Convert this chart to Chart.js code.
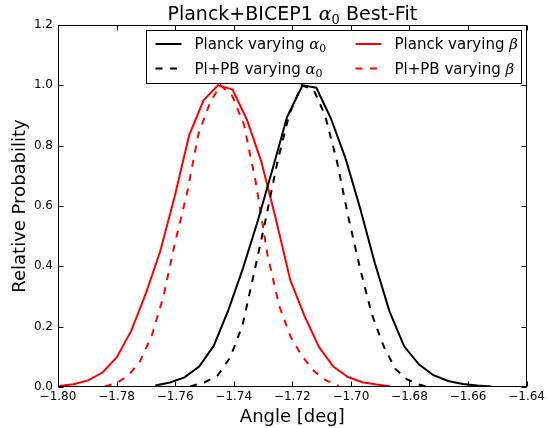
<!DOCTYPE html>
<html>
<head>
<title>Planck+BICEP1 alpha0 Best-Fit</title>
<script src="https://cdn.jsdelivr.net/npm/chart.js@4.4.1/dist/chart.umd.min.js"></script>
<style>
  body { margin: 0; background: #ffffff; }
</style>
</head>
<body>
<canvas id="fitChart" width="548" height="428"></canvas>

<script>
// tick positions
const xTicks = [-1.80, -1.78, -1.76, -1.74, -1.72, -1.70, -1.68, -1.66, -1.64];
const yTicks = [0.0, 0.2, 0.4, 0.6, 0.8, 1.0, 1.2];

// Planck varying alpha0 (black solid)
const planckAlphaX = [-1.7668, -1.7618, -1.7568, -1.7518, -1.7468, -1.7418, -1.7368, -1.7318, -1.7268, -1.7218, -1.7165, -1.7118,
                      -1.7068, -1.7018, -1.6968, -1.6918, -1.6868, -1.6818, -1.6768, -1.6718, -1.6668, -1.6618, -1.6568, -1.6521];
const planckAlphaY = [0.005, 0.015, 0.032, 0.068, 0.137, 0.256, 0.395, 0.550, 0.720, 0.895, 1.000, 0.992,
                      0.890, 0.757, 0.591, 0.410, 0.250, 0.135, 0.075, 0.039, 0.020, 0.010, 0.005, 0.002];

// Pl+PB varying alpha0 (black dashed)
const plpbAlphaX = [-1.7549, -1.7500, -1.7455, -1.7412, -1.7370, -1.7330, -1.7290, -1.7250, -1.7210, -1.7168, -1.7127,
                    -1.7088, -1.7048, -1.7008, -1.6968, -1.6928, -1.6888, -1.6848, -1.6808, -1.6768, -1.6741];
const plpbAlphaY = [0.002, 0.015, 0.038, 0.098, 0.205, 0.380, 0.560, 0.750, 0.905, 1.000, 0.985,
                    0.900, 0.750, 0.560, 0.390, 0.240, 0.135, 0.060, 0.025, 0.008, 0.002];

// Planck varying beta (red solid)
const planckBetaX = [-1.7996, -1.7947, -1.7897, -1.7848, -1.7799, -1.7750, -1.7700, -1.7651, -1.7602, -1.7552, -1.7503, -1.7454,
                     -1.7404, -1.7355, -1.7306, -1.7257, -1.7207, -1.7158, -1.7109, -1.7060, -1.7010, -1.6961, -1.6912, -1.6863];
const planckBetaY = [0.003, 0.009, 0.022, 0.048, 0.099, 0.186, 0.310, 0.450, 0.630, 0.835, 0.950, 1.000,
                     0.986, 0.886, 0.748, 0.560, 0.355, 0.235, 0.133, 0.068, 0.033, 0.016, 0.008, 0.002];

// Pl+PB varying beta (red dashed)
const plpbBetaX = [-1.7840, -1.7800, -1.7760, -1.7720, -1.7680, -1.7640, -1.7600, -1.7560, -1.7520, -1.7480, -1.7445,
                   -1.7405, -1.7365, -1.7325, -1.7285, -1.7245, -1.7205, -1.7165, -1.7125, -1.7085, -1.7041];
const plpbBetaY = [0.002, 0.013, 0.038, 0.085, 0.170, 0.300, 0.480, 0.640, 0.840, 0.945, 1.000,
                   0.965, 0.870, 0.680, 0.440, 0.270, 0.165, 0.100, 0.052, 0.022, 0.004];

const chartTitle = 'Planck+BICEP1 α₀ Best-Fit';
const dashPattern = [7, 7.5];

function points(xs, ys) {
    return xs.map((x, i) => ({ x: x, y: ys[i] }));
}

// split a label into plain text, italic greek letters and subscripts (mathtext look)
function mathParts(text) {
    const parts = [];
    for (const ch of text) {
        let kind = 'n', t = ch;
        if (ch === 'α' || ch === 'β') kind = 'i';
        if (ch === '₀') { kind = 's'; t = '0'; }
        const last = parts[parts.length - 1];
        if (last && last.kind === kind && kind === 'n') last.t += t;
        else parts.push({ t: t, kind: kind });
    }
    return parts;
}

function setPartFont(ctx, kind, size) {
    if (kind === 'n') ctx.font = size + 'px "DejaVu Sans"';
    else if (kind === 'i') ctx.font = 'italic ' + size + 'px "DejaVu Serif"';
    else ctx.font = Math.round(size * 0.7) + 'px "DejaVu Serif"';
}

function mathWidth(ctx, text, size) {
    let w = 0;
    mathParts(text).forEach(p => { setPartFont(ctx, p.kind, size); w += ctx.measureText(p.t).width; });
    return w;
}

function drawMath(ctx, text, x, y, size) {
    mathParts(text).forEach(p => {
        setPartFont(ctx, p.kind, size);
        ctx.fillText(p.t, x, p.kind === 's' ? y + size * 0.22 : y);
        x += ctx.measureText(p.t).width;
    });
}

// title, frame with inward ticks, and legend inside the axes
const decorPlugin = {
    id: 'decor',
    afterDatasetsDraw(chart) {
        const ctx = chart.ctx;
        const a = chart.chartArea;
        const xs = chart.scales.x, ys = chart.scales.y;
        ctx.save();
        ctx.strokeStyle = '#000';
        ctx.lineWidth = 1;
        ctx.setLineDash([]);

        const l = Math.round(a.left) + 0.5, r = Math.round(a.right) - 0.5;
        const t = Math.round(a.top) + 0.5, b = Math.round(a.bottom) - 0.5;
        ctx.strokeRect(l, t, r - l, b - t);

        ctx.beginPath();
        xTicks.forEach(v => {
            const px = Math.round(xs.getPixelForValue(v)) + 0.5;
            ctx.moveTo(px, b); ctx.lineTo(px, b - 5);
            ctx.moveTo(px, t); ctx.lineTo(px, t + 5);
        });
        yTicks.forEach(v => {
            const py = Math.round(ys.getPixelForValue(v)) + 0.5;
            ctx.moveTo(l, py); ctx.lineTo(l + 5, py);
            ctx.moveTo(r, py); ctx.lineTo(r - 5, py);
        });
        ctx.stroke();

        // title
        ctx.fillStyle = '#000';
        ctx.textBaseline = 'alphabetic';
        ctx.textAlign = 'left';
        const tw = mathWidth(ctx, chartTitle, 19);
        drawMath(ctx, chartTitle, (a.left + a.right) / 2 - tw / 2, 19.5, 19);

        // legend box
        const boxL = 146.5, boxT = 30.5, boxW = 375, boxH = 53;
        ctx.fillStyle = '#fff';
        ctx.fillRect(boxL, boxT, boxW, boxH);
        ctx.strokeRect(boxL, boxT, boxW, boxH);

        // column-major like matplotlib: col 1 black, col 2 red
        const order = [0, 1, 2, 3];
        order.forEach((di, n) => {
            const ds = chart.data.datasets[di];
            const col = Math.floor(n / 2), row = n % 2;
            const x0 = boxL + 9 + col * 200;
            const y0 = boxT + 13.5 + row * 24.5;
            ctx.strokeStyle = ds.borderColor;
            ctx.lineWidth = 2;
            ctx.setLineDash(ds.borderDash || []);
            ctx.beginPath();
            ctx.moveTo(x0, y0); ctx.lineTo(x0 + 26, y0);
            ctx.stroke();
            ctx.setLineDash([]);
            ctx.fillStyle = '#000';
            drawMath(ctx, ds.label, x0 + 39, y0 + 5, 15);
        });
        ctx.restore();
    }
};

const ctx = document.getElementById('fitChart');

const fitChart = new Chart(ctx, {
    type: 'scatter',
    data: {
        datasets: [
            { label: 'Planck varying α₀', data: points(planckAlphaX, planckAlphaY), borderColor: '#000000' },
            { label: 'Pl+PB varying α₀', data: points(plpbAlphaX, plpbAlphaY), borderColor: '#000000', borderDash: dashPattern },
            { label: 'Planck varying β', data: points(planckBetaX, planckBetaY), borderColor: '#ff0000' },
            { label: 'Pl+PB varying β', data: points(plpbBetaX, plpbBetaY), borderColor: '#ff0000', borderDash: dashPattern }
        ]
    },
    options: {
        responsive: false,
        animation: false,
        showLine: true,
        layout: { padding: { left: 0, right: 20, top: 25, bottom: 0 } },
        elements: {
            point: { radius: 0, hoverRadius: 0 },
            line: { borderWidth: 2, tension: 0, fill: false }
        },
        plugins: {
            legend: { display: false },
            title: { display: false },
            tooltip: { enabled: false }
        },
        scales: {
            x: {
                type: 'linear',
                min: -1.80,
                max: -1.64,
                afterBuildTicks: s => { s.ticks = xTicks.map(v => ({ value: v })); },
                afterFit: s => { s.height = 41; },
                grid: { display: false, drawTicks: false },
                border: { display: false },
                ticks: {
                    padding: 3,
                    color: '#000',
                    font: { family: 'DejaVu Sans', size: 12 },
                    maxRotation: 0,
                    callback: v => (v < 0 ? '\u2212' : '') + Math.abs(v).toFixed(2)
                },
                title: {
                    display: true,
                    text: 'Angle [deg]',
                    color: '#000',
                    font: { family: 'DejaVu Sans', size: 18 },
                    padding: { top: 0, bottom: 0 }
                }
            },
            y: {
                min: 0,
                max: 1.2,
                afterBuildTicks: s => { s.ticks = yTicks.map(v => ({ value: v })); },
                afterFit: s => { s.width = 58; },
                grid: { display: false, drawTicks: false },
                border: { display: false },
                ticks: {
                    padding: 5,
                    color: '#000',
                    font: { family: 'DejaVu Sans', size: 12 },
                    callback: v => v.toFixed(1)
                },
                title: {
                    display: true,
                    text: 'Relative Probability',
                    color: '#000',
                    font: { family: 'DejaVu Sans', size: 18 },
                    padding: { top: 10, bottom: 0 }
                }
            }
        }
    },
    plugins: [decorPlugin]
});
</script>
</body>
</html>
